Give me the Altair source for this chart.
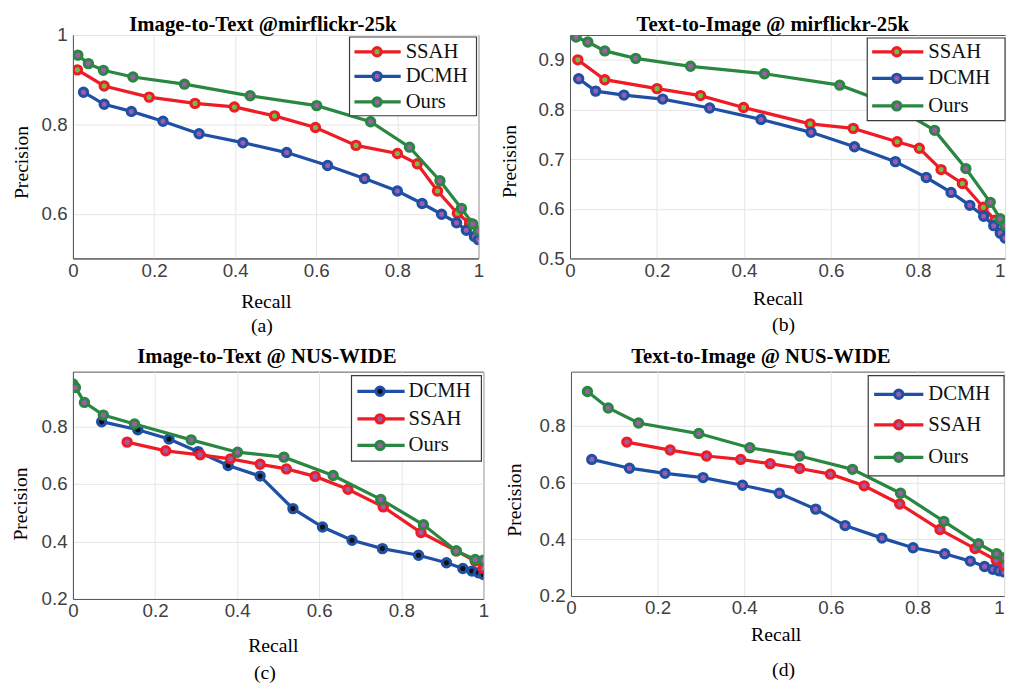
import altair as alt
import pandas as pd

# ---------------- data ----------------
# (a) Image-to-Text @mirflickr-25k
A_SSAH_R = [0.011, 0.077, 0.188, 0.301, 0.398, 0.497, 0.598, 0.698, 0.800, 0.849, 0.899, 0.948, 0.978, 1.0]
A_SSAH_P = [0.922, 0.886, 0.861, 0.847, 0.839, 0.819, 0.793, 0.753, 0.735, 0.712, 0.651, 0.601, 0.579, 0.558]
A_DCMH_R = [0.026, 0.077, 0.144, 0.222, 0.311, 0.419, 0.527, 0.628, 0.719, 0.800, 0.861, 0.909, 0.946, 0.970, 0.990, 1.0]
A_DCMH_P = [0.872, 0.845, 0.829, 0.807, 0.779, 0.759, 0.737, 0.708, 0.679, 0.651, 0.623, 0.599, 0.580, 0.563, 0.549, 0.542]
A_OURS_R = [0.012, 0.038, 0.075, 0.148, 0.275, 0.437, 0.601, 0.734, 0.830, 0.905, 0.958, 0.986, 1.0]
A_OURS_P = [0.955, 0.936, 0.921, 0.906, 0.890, 0.864, 0.842, 0.806, 0.749, 0.674, 0.612, 0.577, 0.562]

# (b) Text-to-Image @ mirflickr-25k
B_SSAH_R = [0.018, 0.080, 0.200, 0.300, 0.399, 0.552, 0.651, 0.752, 0.803, 0.853, 0.902, 0.950, 0.977, 1.0]
B_SSAH_P = [0.900, 0.860, 0.842, 0.828, 0.804, 0.771, 0.762, 0.735, 0.722, 0.679, 0.651, 0.603, 0.577, 0.561]
B_DCMH_R = [0.020, 0.059, 0.124, 0.213, 0.321, 0.439, 0.554, 0.654, 0.748, 0.819, 0.876, 0.919, 0.951, 0.974, 0.989, 1.0]
B_DCMH_P = [0.862, 0.837, 0.829, 0.821, 0.803, 0.780, 0.754, 0.725, 0.695, 0.663, 0.633, 0.607, 0.585, 0.566, 0.551, 0.541]
B_OURS_R = [0.014, 0.041, 0.080, 0.151, 0.277, 0.447, 0.620, 0.736, 0.838, 0.910, 0.966, 0.989, 1.0]
B_OURS_P = [0.946, 0.936, 0.918, 0.903, 0.887, 0.872, 0.849, 0.811, 0.758, 0.681, 0.613, 0.580, 0.567]

# (c) Image-to-Text @ NUS-WIDE
C_DCMH_R = [0.070, 0.158, 0.234, 0.305, 0.378, 0.456, 0.536, 0.608, 0.680, 0.754, 0.842, 0.910, 0.950, 0.972, 0.988, 1.0]
C_DCMH_P = [0.816, 0.788, 0.756, 0.712, 0.664, 0.627, 0.514, 0.450, 0.404, 0.375, 0.352, 0.326, 0.306, 0.297, 0.291, 0.285]
C_SSAH_R = [0.132, 0.226, 0.310, 0.384, 0.456, 0.520, 0.590, 0.670, 0.756, 0.848, 0.934, 0.980, 1.0]
C_SSAH_P = [0.745, 0.715, 0.701, 0.687, 0.668, 0.652, 0.626, 0.581, 0.520, 0.431, 0.367, 0.332, 0.306]
C_OURS_R = [0.0, 0.006, 0.028, 0.074, 0.150, 0.288, 0.401, 0.514, 0.634, 0.750, 0.854, 0.934, 0.980, 1.0]
C_OURS_P = [0.947, 0.935, 0.883, 0.839, 0.808, 0.753, 0.710, 0.693, 0.629, 0.546, 0.458, 0.367, 0.337, 0.335]

# (d) Text-to-Image @ NUS-WIDE
D_DCMH_R = [0.048, 0.135, 0.217, 0.305, 0.396, 0.481, 0.565, 0.633, 0.718, 0.790, 0.863, 0.922, 0.955, 0.974, 0.988, 1.0]
D_DCMH_P = [0.681, 0.650, 0.632, 0.617, 0.590, 0.562, 0.506, 0.448, 0.404, 0.370, 0.349, 0.323, 0.304, 0.294, 0.289, 0.285]
D_SSAH_R = [0.129, 0.229, 0.313, 0.392, 0.460, 0.528, 0.599, 0.677, 0.759, 0.852, 0.933, 0.982, 1.0]
D_SSAH_P = [0.742, 0.714, 0.693, 0.681, 0.666, 0.649, 0.629, 0.588, 0.524, 0.434, 0.367, 0.326, 0.308]
D_OURS_R = [0.038, 0.086, 0.156, 0.295, 0.413, 0.528, 0.650, 0.761, 0.861, 0.941, 0.983, 1.0]
D_OURS_P = [0.920, 0.862, 0.809, 0.772, 0.722, 0.693, 0.646, 0.562, 0.463, 0.384, 0.349, 0.335]

X_TICKS = [0, 0.2, 0.4, 0.6, 0.8, 1.0]

# ---------------- styles ----------------
LINE = {"SSAH": "#EE1D25", "DCMH": "#1F50A5", "Ours": "#2A8742"}
PURPLE = "#A05CAA"
LGREEN = "#6CC04A"
BLACK = "#111111"
SERIF = "Liberation Serif"
SANS = "Liberation Sans"
MSIZE = 70
MSTROKE = 3.2
LW = 3.3


def panel(title, txy, data, order, inner, ydom, yticks, w, h, leg, cap, capxy, recxy, precxy):
    x_enc = alt.X(
        "r:Q",
        scale=alt.Scale(domain=[0, 1], nice=False, zero=False),
        axis=alt.Axis(
            values=X_TICKS, format=".1~f", labelFont=SANS, labelFontSize=19,
            labelColor="#404040", labelPadding=3, ticks=False, domainColor="#555555",
            gridColor="#e4e4e4", title="Recall", titleFont=SERIF, titleFontSize=20,
            titleFontWeight="normal", titleColor="black", titleX=recxy[0], titleY=recxy[1],
            titleBaseline="middle", titleAlign="center",
            labelAlign=alt.expr("datum.value >= 1 ? 'right' : 'center'") if w > 430 else "center",
        ),
    )
    y_enc = alt.Y(
        "p:Q",
        scale=alt.Scale(domain=ydom, nice=False, zero=False),
        axis=alt.Axis(
            values=yticks, format=".1~f", labelFont=SANS, labelFontSize=19,
            labelColor="#404040", labelPadding=6, ticks=False, domainColor="#555555",
            gridColor="#e4e4e4", title="Precision", titleFont=SERIF, titleFontSize=20,
            titleFontWeight="normal", titleColor="black", titleX=precxy[0], titleY=precxy[1],
            titleBaseline="middle", titleAlign="center", titleAngle=270,
        ),
    )
    layers = []
    for s in order:
        r, p = data[s]
        df = pd.DataFrame({"r": r, "p": p})
        layers.append(
            alt.Chart(df).mark_line(color=LINE[s], strokeWidth=LW, clip=True).encode(x=x_enc, y=y_enc)
        )
        layers.append(
            alt.Chart(df).mark_point(
                shape="circle", filled=True, fill=inner[s], stroke=LINE[s], strokeWidth=MSTROKE,
                size=MSIZE, opacity=1, clip=True,
            ).encode(x=x_enc, y=y_enc)
        )
    # legend box
    bx1, bx2, by1, by2, lx1, lx2, mx, tx, eys = leg
    box = pd.DataFrame({"k": [0]})
    layers.append(
        alt.Chart(box).mark_rect(fill="white", stroke="#3a3a3a", strokeWidth=1.2).encode(
            x=alt.value(bx1), x2=alt.value(bx2), y=alt.value(by1), y2=alt.value(by2)
        )
    )
    for s, ey in zip(order, eys):
        ldf = pd.DataFrame({"series": [s]})
        layers.append(
            alt.Chart(ldf).mark_rule(color=LINE[s], strokeWidth=LW).encode(
                x=alt.value(lx1), x2=alt.value(lx2), y=alt.value(ey)
            )
        )
        layers.append(
            alt.Chart(ldf).mark_point(
                shape="circle", filled=True, fill=inner[s], stroke=LINE[s], strokeWidth=MSTROKE,
                size=MSIZE, opacity=1,
            ).encode(x=alt.value(mx), y=alt.value(ey))
        )
        layers.append(
            alt.Chart(ldf).mark_text(
                font=SERIF, fontSize=21, align="left", baseline="middle", color="#111111"
            ).encode(x=alt.value(tx), y=alt.value(ey), text=alt.Text("series:N"))
        )
    # sub-caption and title as text marks
    cdf = pd.DataFrame({"t": [cap]})
    layers.append(
        alt.Chart(cdf).mark_text(font=SERIF, fontSize=20, baseline="middle", color="black").encode(
            x=alt.value(capxy[0]), y=alt.value(capxy[1]), text=alt.Text("t:N")
        )
    )
    tdf = pd.DataFrame({"t": [title]})
    layers.append(
        alt.Chart(tdf).mark_text(
            font=SERIF, fontSize=21, fontWeight="bold", baseline="middle", color="black"
        ).encode(x=alt.value(txy[0]), y=alt.value(txy[1]), text=alt.Text("t:N"))
    )
    return alt.layer(*layers).properties(width=w, height=h)


pa = panel(
    "Image-to-Text @mirflickr-25k", (193, -10),
    {"SSAH": (A_SSAH_R, A_SSAH_P), "DCMH": (A_DCMH_R, A_DCMH_P), "Ours": (A_OURS_R, A_OURS_P)},
    ["SSAH", "DCMH", "Ours"], {"SSAH": LGREEN, "DCMH": PURPLE, "Ours": PURPLE},
    [0.5, 1.0], [0.6, 0.8, 1.0], 412, 227,
    (281, 410, 2, 82, 286, 333, 309, 338, [17, 42, 68]),
    "(a)", (192, 296), (196, 44), (-52, 129),
)
pb = panel(
    "Text-to-Image @ mirflickr-25k", (206, -10),
    {"SSAH": (B_SSAH_R, B_SSAH_P), "DCMH": (B_DCMH_R, B_DCMH_P), "Ours": (B_OURS_R, B_OURS_P)},
    ["SSAH", "DCMH", "Ours"], {"SSAH": LGREEN, "DCMH": PURPLE, "Ours": PURPLE},
    [0.5, 0.95], [0.5, 0.6, 0.7, 0.8, 0.9], 442, 227,
    (302, 442, 3, 87, 307, 359, 332, 364, [17, 44, 72]),
    "(b)", (217, 295), (211, 41), (-61, 128),
)
pc = panel(
    "Image-to-Text @ NUS-WIDE", (197, -15),
    {"SSAH": (C_SSAH_R, C_SSAH_P), "DCMH": (C_DCMH_R, C_DCMH_P), "Ours": (C_OURS_R, C_OURS_P)},
    ["DCMH", "SSAH", "Ours"], {"SSAH": PURPLE, "DCMH": BLACK, "Ours": PURPLE},
    [0.2, 0.99], [0.2, 0.4, 0.6, 0.8], 417, 231,
    (283, 415, 4, 91, 289, 337, 312, 341, [20, 48, 75]),
    "(c)", (195, 306), (203, 47), (-53, 134),
)
pd_ = panel(
    "Text-to-Image @ NUS-WIDE", (193, -15),
    {"SSAH": (D_SSAH_R, D_SSAH_P), "DCMH": (D_DCMH_R, D_DCMH_P), "Ours": (D_OURS_R, D_OURS_P)},
    ["DCMH", "SSAH", "Ours"], {"SSAH": PURPLE, "DCMH": PURPLE, "Ours": PURPLE},
    [0.2, 0.99], [0.2, 0.4, 0.6, 0.8], 440, 228,
    (302, 440, 4, 106, 308, 358, 333, 363, [23, 54, 87]),
    "(d)", (216, 303), (208, 39), (-57, 130),
)

row1 = alt.hconcat(pa, pb, spacing=15)
row2 = alt.hconcat(pc, pd_, spacing=15)
chart = alt.vconcat(row1, row2, spacing=8).properties(
    padding={"left": 2, "top": 0, "right": 0, "bottom": 0}
).configure_view(stroke="#555555", strokeWidth=1).configure_axis(domainWidth=1, gridWidth=1)

chart.save("out.html", embed_options={"renderer": "svg", "actions": False})
